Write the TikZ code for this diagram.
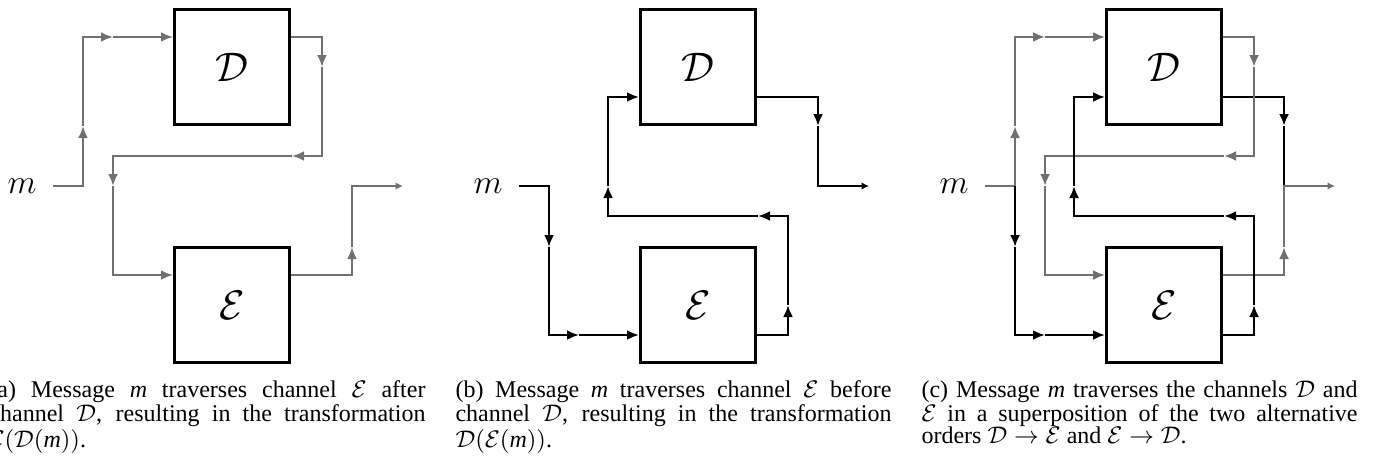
\documentclass[tikz,border=0pt]{standalone}
\usepackage{fix-cm}
\usepackage{fontspec}
\setmainfont{Liberation Serif}
\usetikzlibrary{arrows.meta}
\definecolor{lgray}{RGB}{112,112,112}
\newlength\capw
\setlength\capw{174.4pt}
\newcommand\capline[1]{\hbox to \capw{#1}}
\begin{document}
\begin{tikzpicture}[x=0.4pt,y=-0.4pt,
  chbox/.style={draw,line width=1.2pt,minimum width=46pt,minimum height=46pt,inner sep=0pt,font=\fontsize{16.5}{20}\selectfont},
  mlab/.style={inner sep=0pt,font=\fontsize{13.5}{16}\selectfont},
  gl/.style={line width=1pt,draw=lgray},
  bl/.style={line width=1pt,draw=black},
  arr/.style={-{Latex[length=4.8pt,width=4pt]}},
  endarr/.style={-{Latex[length=3pt,width=3pt]}},
  captext/.style={anchor=base west,inner sep=0pt,font=\fontsize{9.6}{8.8}\selectfont}]
\useasboundingbox (0,0) rectangle (1377,460);

% ---------------- panel (a) ----------------
\node[chbox] (Da) at (232,67) {$\mathcal{D}$};
\node[chbox] (Ea) at (232,305) {$\mathcal{E}$};
\node[mlab] (ma) at (22,186) {$m$};
\coordinate (ia) at (53,186);
\coordinate (oa) at (403,186);
\draw[gl,arr] (ia) -- (83,186) -- (83,126);
\draw[gl,arr] (83,126) -- (83,37) -- (113,37);
\draw[gl,arr] (113,37) -- (Da.west |- 0,37);
\draw[gl,arr] (Da.east |- 0,37) -- (322,37) -- (322,67);
\draw[gl,arr] (322,67) -- (322,156) -- (292,156);
\draw[gl,arr] (292,156) -- (113,156) -- (113,186);
\draw[gl,arr] (113,186) -- (113,275) -- (Ea.west |- 0,275);
\draw[gl,arr] (Ea.east |- 0,275) -- (352,275) -- (352,247);
\draw[gl,endarr] (352,247) -- (352,186) -- (oa);
\node[captext] (capa) at (-11,397) {\vtop{\hsize=\capw
  \capline{(a) Message \textit{m} traverses channel $\mathcal{E}$ after}
  \capline{channel $\mathcal{D}$, resulting in the transformation}
  \hbox{$\mathcal{E}(\mathcal{D}(\textit{m}))$.}}};

% ---------------- panel (b) ----------------
\begin{scope}[xshift=186.4pt]
\node[chbox] (Db) at (232,67) {$\mathcal{D}$};
\node[chbox] (Eb) at (232,305) {$\mathcal{E}$};
\node[mlab] (mb) at (22,186) {$m$};
\coordinate (ib) at (53,186);
\coordinate (ob) at (403,186);
\draw[bl,arr] (ib) -- (83,186) -- (83,247);
\draw[bl,arr] (83,247) -- (83,335) -- (113,335);
\draw[bl,arr] (113,335) -- (Eb.west |- 0,335);
\draw[bl,arr] (Eb.east |- 0,335) -- (322,335) -- (322,305);
\draw[bl,arr] (322,305) -- (322,216) -- (292,216);
\draw[bl,arr] (292,216) -- (142,216) -- (142,186);
\draw[bl,arr] (142,186) -- (142,97) -- (Db.west |- 0,97);
\draw[bl,arr] (Db.east |- 0,97) -- (352,97) -- (352,126);
\draw[bl,endarr] (352,126) -- (352,186) -- (ob);
\node[captext] (capb) at (-11,397) {\vtop{\hsize=\capw
  \capline{(b) Message \textit{m} traverses channel $\mathcal{E}$ before}
  \capline{channel $\mathcal{D}$, resulting in the transformation}
  \hbox{$\mathcal{D}(\mathcal{E}(\textit{m}))$.}}};
\end{scope}

% ---------------- panel (c) ----------------
\begin{scope}[xshift=372.8pt]
\node[chbox] (Dc) at (232,67) {$\mathcal{D}$};
\node[chbox] (Ec) at (232,305) {$\mathcal{E}$};
\node[mlab] (mc) at (22,186) {$m$};
\coordinate (ic) at (53,186);
\coordinate (sc) at (83,186);
\coordinate (jc) at (352,186);
\coordinate (oc) at (403,186);
% black D output (below gray)
\draw[bl,arr] (Dc.east |- 0,97) -- (352,97) -- (352,126);
\draw[bl] (352,126) -- (jc);
% gray: D then E
\draw[gl,arr] (ic) -- (sc) -- (83,126);
\draw[gl,arr] (83,126) -- (83,37) -- (113,37);
\draw[gl,arr] (113,37) -- (Dc.west |- 0,37);
\draw[gl,arr] (Dc.east |- 0,37) -- (322,37) -- (322,67);
\draw[gl,arr] (322,67) -- (322,156) -- (292,156);
\draw[gl,arr] (292,156) -- (113,156) -- (113,186);
\draw[gl,arr] (113,186) -- (113,275) -- (Ec.west |- 0,275);
\draw[gl,arr] (Ec.east |- 0,275) -- (352,275) -- (352,247);
\draw[gl,endarr] (352,247) -- (jc) -- (oc);
% black: E then D
\draw[bl,arr] (sc) -- (83,247);
\draw[bl,arr] (83,247) -- (83,335) -- (113,335);
\draw[bl,arr] (113,335) -- (Ec.west |- 0,335);
\draw[bl,arr] (Ec.east |- 0,335) -- (322,335) -- (322,305);
\draw[bl,arr] (322,305) -- (322,216) -- (292,216);
\draw[bl,arr] (292,216) -- (142,216) -- (142,186);
\draw[bl,arr] (142,186) -- (142,97) -- (Dc.west |- 0,97);
\node[captext] (capc) at (-11,397) {\vtop{\hsize=\capw
  \capline{(c) Message \textit{m} traverses the channels $\mathcal{D}$ and}
  \capline{$\mathcal{E}$ in a superposition of the two alternative}
  \hbox{orders $\mathcal{D}\rightarrow\mathcal{E}$ and $\mathcal{E}\rightarrow\mathcal{D}$.}}};
\end{scope}
\end{tikzpicture}
\end{document}
